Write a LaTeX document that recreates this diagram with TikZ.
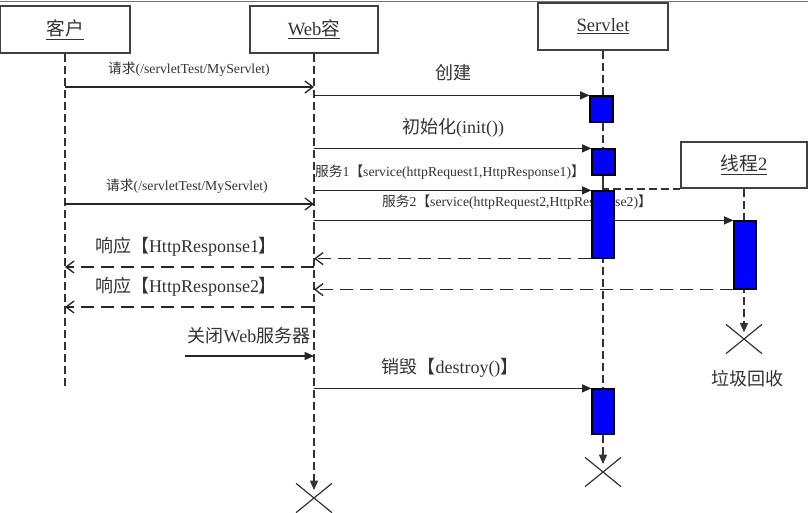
\documentclass[tikz,border=0pt]{standalone}
\usepackage{fontspec}
\setmainfont{Liberation Serif}
\newfontfamily\cjk{Noto Sans CJK SC}
\usetikzlibrary{arrows.meta,positioning,fit,shapes.misc,backgrounds}
\newcommand{\zh}[1]{{\cjk #1}}
\definecolor{frameblue}{RGB}{90,120,160}
\definecolor{inkgray}{RGB}{50,50,50}
\tikzset{
  >={Triangle[length=7pt,width=6pt]},
  obj/.style={draw=black!75,line width=1.3pt,minimum width=97pt,minimum height=35pt,font=\fontsize{14}{16}\selectfont,text=inkgray},
  life/.style={line width=1pt,dash pattern=on 6pt off 3pt,draw=black!80},
  act/.style={draw=black,fill=blue,line width=0.9pt,inner sep=0pt},
  call/.style={->,line width=1pt,draw=black!85},
  req/.style={-{Straight Barb[length=6pt,width=9pt]},line width=1pt,draw=black!85},
  reply/.style={req,dash pattern=on 10pt off 5pt},
  big/.style={font=\fontsize{13.5}{16}\selectfont,text=inkgray},
  small/.style={font=\fontsize{10.3}{12}\selectfont,text=inkgray},
  kill/.style={cross out,draw=black!80,line width=0.9pt,minimum width=26pt,minimum height=21pt,inner sep=0pt},
}

\begin{document}
\begin{tikzpicture}[x=0.75pt,y=-0.75pt]
\useasboundingbox (0,0) rectangle (808,512);
\draw[frameblue,line width=0.6pt] (0,1) -- (808,1);

% objects
\node[obj] (client) at (65,29.5) {\underline{\zh{客户}}};
\node[obj,minimum width=96pt] (web) at (314,29.5) {\underline{Web\zh{容}}};
\node[obj] (servlet) at (603,26.5) {\underline{Servlet}};
\node[obj,minimum width=94.5pt,minimum height=34.5pt] (thread) at (744,165) {\underline{\zh{线程}2}};

% ends
\coordinate (clientEnd) at (65,387);
\node[kill] (xweb) at (314,498) {};
\node[kill] (xservlet) at (603,472) {};
\node[kill] (xthread) at (744,339) {};

% lifelines
\draw[life] (client.south) -- (clientEnd);
\draw[life,->,shorten >=6pt] (web.south) -- (xweb.center);
\draw[life,->,shorten >=6pt] (servlet.south) -- (xservlet.center);
\draw[life,->,shorten >=5pt] (thread.south) -- (xthread.center);
\draw[life] (servlet |- 0,175) |- (thread.south west);

% activations
\node[act,fit={(590,96) (613,122)}] (a1) {};
\node[act,fit={(592,149) (615,175)}] (a2) {};
\node[act,fit={(592,191) (614,258)}] (a3) {};
\node[act,fit={(734,221) (756,289)}] (a4) {};
\node[act,fit={(592,389) (614,434)}] (a5) {};

% messages
\draw[req] (client |- 0,87) -- (web |- 0,87);
\draw[call] (web |- a1.north) -- (a1.north west);
\draw[call] (web |- a2.north) -- (a2.north west);
\draw[call] (web |- a3.north) -- (a3.north west);
\draw[req] (client |- 0,204) -- (web |- 0,204);
\begin{scope}[on background layer]
\draw[call] (web |- a4.north) -- (a4.north west);
\node[small] (s2) at (517,202) {\zh{服务}2\zh{【}service(httpRequest2,HttpResponse2)\zh{】}};
\end{scope}
\draw[reply] (a3.south west) -- (web |- a3.south);
\draw[reply] (web |- 0,267) -- (client |- 0,267);
\draw[reply] (a4.south west) -- (web |- a4.south);
\draw[reply] (web |- 0,307) -- (client |- 0,307);
\coordinate (shutdown) at (185,356);
\draw[call] (shutdown) -- (web |- shutdown);
\draw[call] (web |- a5.north) -- (a5.north west);

% labels
\node[small] (q1) at (189,69) {\zh{请求}(/servletTest/MyServlet)};
\node[big] (create) at (453,73) {\zh{创建}};
\node[big] (init) at (453,128) {\zh{初始化}(init())};
\node[small] (s1) at (450,172) {\zh{服务}1\zh{【}service(httpRequest1,HttpResponse1)\zh{】}};
\node[small] (q2) at (187,186) {\zh{请求}(/servletTest/MyServlet)};
\node[big] (r1) at (186,247) {\zh{响应【}HttpResponse1\zh{】}};
\node[big] (r2) at (186,287) {\zh{响应【}HttpResponse2\zh{】}};
\node[big] (stop) at (249,336) {\zh{关闭}Web\zh{服务器}};
\node[big] (destroy) at (450,368) {\zh{销毁【}destroy()\zh{】}};
\node[big] (gc) at (747,379) {\zh{垃圾回收}};
\end{tikzpicture}
\end{document}
